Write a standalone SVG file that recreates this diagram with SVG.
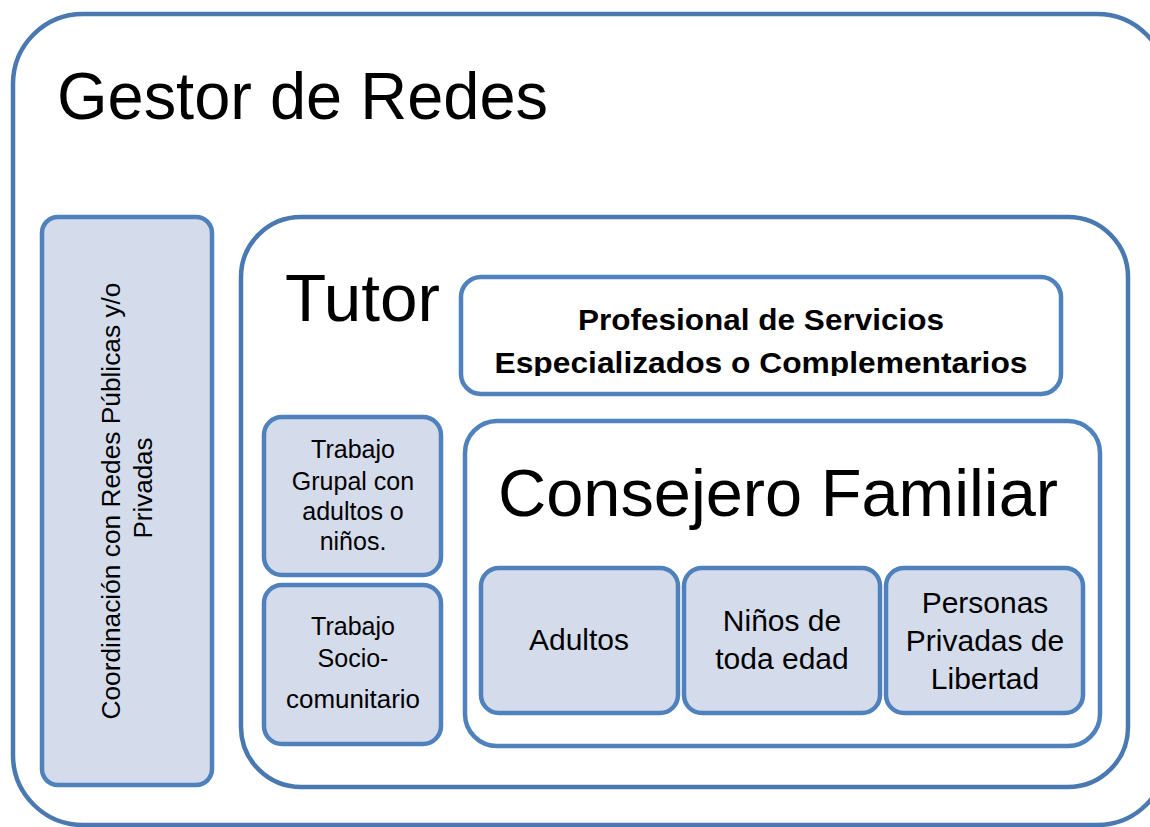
<svg xmlns="http://www.w3.org/2000/svg" width="1150" height="827" viewBox="0 0 1150 827">
<style>
  .frame { fill: #ffffff; stroke: #4A78B1; stroke-width: 4.5; }
  .box { fill: #D4DCEB; stroke: #4F81BD; stroke-width: 4.5; }
  .wbox { fill: #ffffff; stroke: #4F81BD; stroke-width: 4.5; }
  text { font-family: "Liberation Sans", Arial, sans-serif; fill: #000000; }
  .big { font-size: 67px; }
  .mid { font-size: 30px; text-anchor: middle; }
  .sm { font-size: 25px; text-anchor: middle; }
  .bold { font-size: 30px; font-weight: bold; text-anchor: middle; }
</style>
<defs>
  <clipPath id="profClip"><rect x="461" y="277" width="600" height="99"/></clipPath>
</defs>
<rect width="1150" height="827" fill="#ffffff"/>
<g id="gestor">
  <rect class="frame" x="13" y="14" width="1154" height="811" rx="70"/>
  <text class="big" x="57" y="119" textLength="491" lengthAdjust="spacingAndGlyphs">Gestor de Redes</text>
</g>
<g id="coordinacion">
  <rect class="box" x="42" y="217" width="170" height="568" rx="16"/>
  <text font-size="26" text-anchor="middle" transform="translate(120,501) rotate(-90)" textLength="437" lengthAdjust="spacingAndGlyphs">Coordinación con Redes Públicas y/o</text>
  <text font-size="26" text-anchor="middle" transform="translate(152,488) rotate(-90)">Privadas</text>
</g>
<g id="tutor">
  <rect class="frame" x="241" y="217" width="887" height="570" rx="60"/>
  <text class="big" font-size="68" x="285" y="321" textLength="155" lengthAdjust="spacingAndGlyphs">Tutor</text>
</g>
<g id="profesional">
  <rect class="wbox" x="461" y="277" width="600" height="117" rx="20"/>
  <g clip-path="url(#profClip)">
    <text class="bold" x="761" y="330" textLength="366" lengthAdjust="spacingAndGlyphs">Profesional de Servicios</text>
    <text class="bold" x="761" y="373" textLength="533" lengthAdjust="spacingAndGlyphs">Especializados o Complementarios</text>
  </g>
</g>
<g id="trabajo-grupal">
  <rect class="box" x="264" y="417" width="177" height="158" rx="18"/>
  <text class="sm" x="353" y="458">Trabajo</text>
  <text class="sm" x="353" y="490">Grupal con</text>
  <text class="sm" x="353" y="520">adultos o</text>
  <text class="sm" x="353" y="550">niños.</text>
</g>
<g id="trabajo-socio">
  <rect class="box" x="264" y="585" width="177" height="159" rx="18"/>
  <text class="sm" x="353" y="635">Trabajo</text>
  <text class="sm" x="353" y="667">Socio-</text>
  <text class="sm" x="353" y="708" textLength="134" lengthAdjust="spacingAndGlyphs">comunitario</text>
</g>
<g id="consejero">
  <rect class="wbox" x="465" y="421" width="635" height="325" rx="32"/>
  <text class="big" font-size="64" x="498" y="516" textLength="560" lengthAdjust="spacingAndGlyphs">Consejero Familiar</text>
</g>
<g id="adultos">
  <rect class="box" x="481" y="568" width="197" height="145" rx="18"/>
  <text class="mid" x="579" y="650">Adultos</text>
</g>
<g id="ninos">
  <rect class="box" x="684" y="568" width="196" height="145" rx="18"/>
  <text class="mid" x="782" y="631">Niños de</text>
  <text class="mid" x="782" y="669">toda edad</text>
</g>
<g id="personas">
  <rect class="box" x="886" y="568" width="197" height="145" rx="18"/>
  <text class="mid" x="985" y="613">Personas</text>
  <text class="mid" x="985" y="651">Privadas de</text>
  <text class="mid" x="985" y="689">Libertad</text>
</g>
<g id="connectors"></g>
</svg>
